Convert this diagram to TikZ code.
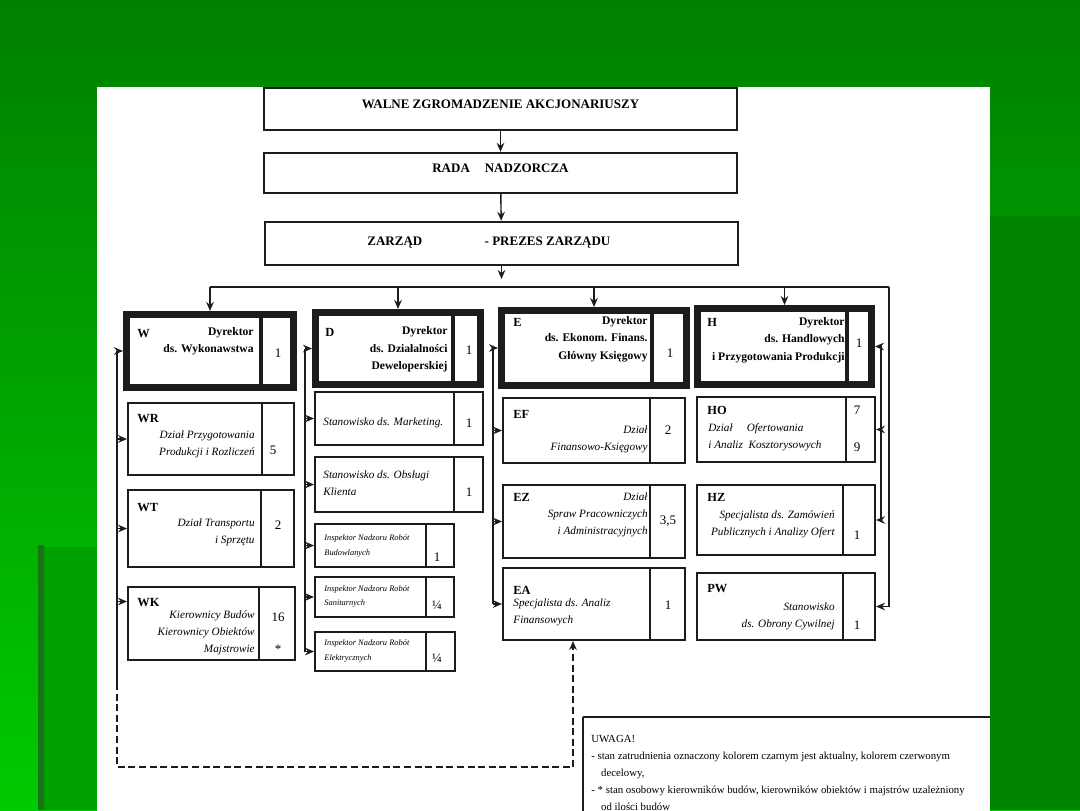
\documentclass[tikz,border=0pt]{standalone}
\usepackage{fontspec}
\setmainfont{Liberation Serif}
\usetikzlibrary{arrows.meta, fit, calc}
\definecolor{slidetop}{RGB}{0,128,0}
\definecolor{slidebot}{RGB}{0,202,0}
\definecolor{slideside}{RGB}{0,132,0}
\definecolor{slideinset}{RGB}{0,160,0}
\definecolor{slideedge}{RGB}{25,115,25}
\definecolor{ink}{RGB}{28,28,28}
\tikzset{
  topunit/.style={rectangle, draw=ink, line width=1.2pt, inner sep=0pt,
    font=\fontsize{6.5}{8}\selectfont\bfseries},
  dirunit/.style={rectangle, draw=ink, line width=3.5pt, inner sep=0pt},
  unit/.style={rectangle, draw=ink, line width=1pt, inner sep=0pt},
  dirdiv/.style={draw=ink, line width=2pt},
  unitdiv/.style={draw=ink, line width=0.6pt},
  code/.style={inner sep=0pt, anchor=mid west, font=\fontsize{6.2}{7}\selectfont\bfseries},
  dirtext/.style={inner sep=0pt, anchor=east, align=right,
    font=\fontsize{5.8}{8.7}\selectfont\bfseries},
  depttext/.style={inner sep=0pt, align=right,
    font=\fontsize{5.6}{8.6}\selectfont\itshape},
  insptext/.style={inner sep=0pt, anchor=west, align=left,
    font=\fontsize{4.2}{7.2}\selectfont\itshape},
  num/.style={inner sep=0pt, anchor=mid, font=\fontsize{6.5}{7}\selectfont},
  note/.style={inner sep=0pt, anchor=north west, align=left,
    font=\fontsize{5.4}{8.5}\selectfont},
  line/.style={draw=ink, line width=0.7pt},
  arrow/.style={line, -{Stealth[length=4.5pt, width=3.8pt]}}
}

\begin{document}
\begin{tikzpicture}[x=0.5pt, y=-0.5pt]
  \useasboundingbox (0,0) rectangle (1080,810);
  % Slide background
  \shade[top color=slidetop, bottom color=slidebot] (0,0) rectangle (1080,810);
  \fill[slideside] (990,216) rectangle (1080,810);
  \fill[slideedge] (38,545) rectangle (44,810);
  \fill[slideinset] (44,547) rectangle (97,810);
  \fill[white] (97,87) rectangle (990,811);

  % Top levels
  \node[topunit, fit={(264,88) (737,130)}] (walne) {WALNE ZGROMADZENIE AKCJONARIUSZY};
  \node[topunit, fit={(264,153) (737,193)}] (rada) {RADA\hspace{0.9em} NADZORCZA};
  \node[topunit, fit={(265,222) (738,265)}] (zarzad) {};
  \node[code, font=\fontsize{6.5}{8}\selectfont\bfseries] (zarzad-t) at (367,241)
    {ZARZĄD\hspace{4.8em}- PREZES ZARZĄDU};

  % Directors
  \foreach \n/\xa/\ya/\xb/\yb/\xd in {w/126.5/314.5/293.5/387.5/261,
      d/315.5/312.5/480.5/384.5/453, e/501.5/310.5/686.5/385.5/652,
      h/697.5/308.5/871.5/384.5/847} {
    \node[dirunit, fit={(\xa,\ya) (\xb,\yb)}] (\n) {};
    \draw[dirdiv] (\xd,\ya) -- (\xd,\yb);
  }

  % Departments
  \foreach \n/\xa/\ya/\xb/\yb/\xd in {wr/128/403/294/475/262, wt/128/490/294/567/261,
      wk/128/587/295/660/259, dmk/315/392/483/445/454, dok/315/457/483/512/454,
      db/315/524/454/567/426, ds/315/577/454/617/426, de/315/632/455/671/426,
      ef/503/398/685/463/650, ez/503/485/685/558/650, ea/503/568/685/640/650,
      ho/697/397/875/462/846, hz/697/485/875/555/843, pw/697/573/875/640/843} {
    \node[unit, fit={(\xa,\ya) (\xb,\yb)}] (\n) {};
    \draw[unitdiv] (\xd,\ya) -- (\xd,\yb);
  }

  % Codes
  \foreach \n/\x/\y/\t in {w/137/333/W, wr/137/418/WR, wt/137/507/WT, wk/137/602/WK,
      d/325/332/D, e/513/322/E, ef/513/414/EF, ez/513/497/EZ, ea/513/590/EA,
      h/707/322/H, ho/707/410/HO, hz/707/497/HZ, pw/707/588/PW}
    \node[code] (\n-c) at (\x,\y) {\t};

  % Head counts
  \foreach \n/\x/\y/\t in {w/278/353/1, wr/273/450/5, wt/278/525/2, wk/278/617/16,
      wks/278/649/*, d/469/350/1, dmk/469/423/1, dok/469/492/1, db/437/557/1,
      ds/437/605/¼, de/437/658/¼, e/670/353/1, ef/668/430/2, ez/668/520/{3,5},
      ea/668/605/1, h/859/343/1, ho/857/410/7, hos/857/447/9, hz/857/535/1, pw/857/625/1}
    \node[num] (\n-n) at (\x,\y) {\t};

  % Director titles
  \node[dirtext] (w-t) at (254,341.5) {Dyrektor\\ds. Wykonawstwa};
  \node[dirtext] (d-t) at (448,349.5) {Dyrektor\\ds. Działalności\\Deweloperskiej};
  \node[dirtext] (e-t) at (648,339) {Dyrektor\\ds. Ekonom. Finans.\\Główny Księgowy};
  \node[dirtext] (h-t) at (845,340) {Dyrektor\\ds. Handlowych\\i Przygotowania Produkcji};

  % Department titles
  \node[depttext, anchor=east] (wr-t) at (255,444) {Dział Przygotowania\\Produkcji i Rozliczeń};
  \node[depttext, anchor=east] (wt-t) at (255,532) {Dział Transportu\\i Sprzętu};
  \node[depttext, anchor=east] (wk-t) at (255,633) {Kierownicy Budów\\Kierownicy Obiektów\\Majstrowie};
  \node[depttext, anchor=west, align=left] (dmk-t) at (323,423) {Stanowisko ds. Marketing.};
  \node[depttext, anchor=west, align=left] (dok-t) at (323,483) {Stanowisko ds. Obsługi\\Klienta};
  \node[insptext] (db-t) at (324,546) {Inspektor Nadzoru Robót\\Budowlanych};
  \node[insptext] (ds-t) at (324,596.5) {Inspektor Nadzoru Robót\\Sanitarnych};
  \node[insptext] (de-t) at (324,651) {Inspektor Nadzoru Robót\\Elektrycznych};
  \node[depttext, anchor=east] (ef-t) at (648,439) {Dział\\Finansowo-Księgowy};
  \node[depttext, anchor=east] (ez-t) at (648,515) {Dział\\Spraw Pracowniczych\\i Administracyjnych};
  \node[depttext, anchor=west, align=left] (ea-t) at (513,612) {Specjalista ds. Analiz\\Finansowych};
  \node[depttext, anchor=west, align=left] (ho-t) at (708,437.5)
    {\makebox[47.5pt][l]{Dział\hfill Ofertowania}\\i Analiz\ \ Kosztorysowych};
  \node[depttext, anchor=east] (hz-t) at (835,524) {Specjalista ds. Zamówień\\Publicznych i Analizy Ofert};
  \node[depttext, anchor=east] (pw-t) at (835,616) {Stanowisko\\ds. Obrony Cywilnej};

  % Flows
  \coordinate (bustop) at (0,279);
  \coordinate (busR) at (889,287);
  \draw[arrow] (walne) -- (rada);
  \draw[arrow] (rada) -- (zarzad);
  \draw[arrow] (zarzad.south) -- (zarzad.south |- bustop);
  \draw[line] (w.north |- busR) -- (busR);
  \foreach \b in {w,d,e,h}
    \draw[arrow] (\b.north |- busR) -- (\b.north);
  \draw[arrow] (busR) |- (pw.east);

  % Spines
  \coordinate (wsp) at (117,0);
  \coordinate (dsp) at (305,0);
  \coordinate (esp) at (493,0);
  \coordinate (hsp) at (881,0);
  \coordinate (wlow) at (117,683);
  \coordinate (wkin) at ([yshift=11pt]wk.west);
  \coordinate (loop) at (573,767);
  \draw[line] (wsp |- w.west) -- (wlow);
  \foreach \b in {w,wr,wt}
    \draw[arrow] (wsp |- \b.west) -- (\b.west);
  \draw[arrow] (wsp |- wkin) -- (wkin);
  \draw[line, dash pattern=on 3.5pt off 1.8pt] (wlow) |- (loop);
  \draw[arrow, dash pattern=on 3.5pt off 1.8pt] (loop) -- (loop |- ea.south);
  \draw[line] (dsp |- d.west) -- (dsp |- de.west);
  \foreach \b in {d,dmk,dok,db,ds,de}
    \draw[arrow] (dsp |- \b.west) -- (\b.west);
  \draw[line] (esp |- e.west) -- (esp |- ea.west);
  \foreach \b in {e,ef,ez,ea}
    \draw[arrow] (esp |- \b.west) -- (\b.west);
  \draw[line] (hsp |- h.east) -- (hsp |- hz.east);
  \foreach \b in {h,ho,hz}
    \draw[arrow] (hsp |- \b.east) -- (\b.east);

  % Note
  \draw[line, line width=1.3pt] (583,717) -- (990,717);
  \draw[line, line width=0.7pt] (583,717) -- (583,811);
  \node[note] (uwaga) at (591,735) {UWAGA!\\
    - stan zatrudnienia oznaczony kolorem czarnym jest aktualny, kolorem czerwonym\\
    \hspace*{0.9em}decelowy,\\
    - * stan osobowy kierowników budów, kierowników obiektów i majstrów uzależniony\\
    \hspace*{0.9em}od ilości budów};
\end{tikzpicture}
\end{document}
